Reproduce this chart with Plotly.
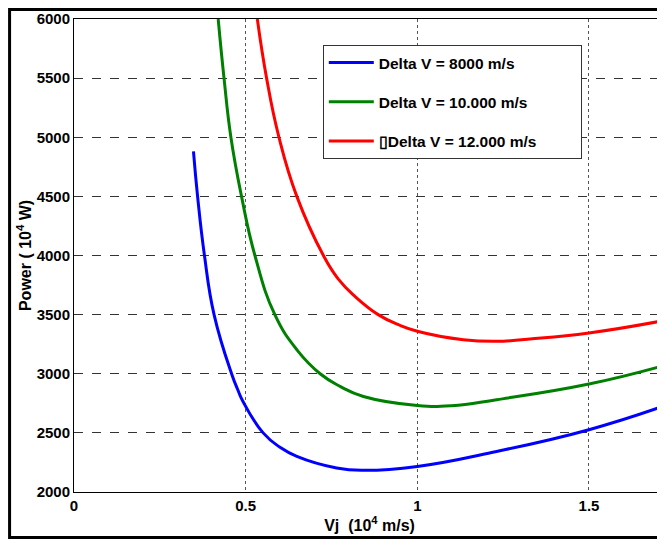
import plotly.graph_objects as go

# values (Vj in 1e4 m/s, power in 1e4 W)
vj_8000 = [0.348, 0.360, 0.380, 0.408, 0.459, 0.477, 0.493, 0.551, 0.600, 0.649, 0.765, 0.843, 1.0, 1.231, 1.5, 1.721]
pw_8000 = [4880, 4500, 4000, 3500, 3000, 2865, 2761, 2500, 2378, 2301, 2203, 2183, 2216, 2343, 2527, 2730]

vj_10000 = [0.420, 0.437, 0.457, 0.488, 0.527, 0.585, 0.650, 0.717, 0.775, 0.843, 1.0, 1.1, 1.231, 1.5, 1.721]
pw_10000 = [6000, 5500, 5000, 4500, 4000, 3500, 3200, 3000, 2893, 2808, 2732, 2730, 2781, 2913, 3071]

vj_12000 = [0.534, 0.561, 0.597, 0.649, 0.7265, 0.770, 0.8185, 0.886, 0.945, 1.0, 1.134, 1.231, 1.328, 1.5, 1.721]
pw_12000 = [6000, 5500, 5000, 4500, 4000, 3800, 3654, 3500, 3415, 3360, 3288, 3274, 3294, 3345, 3451]

series = [
    ("Delta V = 8000 m/s", vj_8000, pw_8000, "#0000ff"),
    ("Delta V = 10.000 m/s", vj_10000, pw_10000, "#008000"),
    ("\u25afDelta V = 12.000 m/s\u00a0\u00a0\u00a0\u00a0\u00a0\u00a0\u00a0\u00a0\u00a0", vj_12000, pw_12000, "#ff0000"),
]

font = "Liberation Sans, Arial, sans-serif"

fig = go.Figure()
for i, (name, x, y, c) in enumerate(series):
    fig.add_trace(go.Scatter(
        x=x, y=y, name=name, mode="lines", legendgroup=str(i),
        line=dict(color=c, width=3, shape="spline", smoothing=1.3),
    ))

# the page body has an 8px margin, so the figure is a bit smaller than the window
fig.update_layout(
    width=657, height=531,
    margin=dict(l=66, r=0, t=11, b=47),
    paper_bgcolor="white", plot_bgcolor="white",
    font=dict(family=font, size=14, color="black"),
    showlegend=True,
    legend=dict(
        x=0.421, y=0.945, xanchor="left", yanchor="top",
        bgcolor="white", bordercolor="#333333", borderwidth=1,
        font=dict(family=font, size=15.5, color="black", weight="bold"),
        traceorder="grouped", tracegroupgap=16, itemwidth=45,
    ),
    shapes=[dict(
        type="rect", xref="paper", yref="paper",
        x0=-0.109, x1=1.02, y0=-0.0962, y1=1.0201,
        line=dict(color="black", width=3), layer="above",
    )],
)

fig.update_xaxes(
    range=[0, 1.7215], tickvals=[0, 0.5, 1, 1.5], ticktext=["0", "0.5", "1", "1.5"],
    showgrid=True, gridcolor="#555555", griddash="dot", gridwidth=1,
    showline=True, linecolor="black", linewidth=1, mirror=True,
    ticks="", zeroline=False, automargin=False,
    tickfont=dict(family=font, size=15, weight="bold"),
    title=dict(text="Vj  (10<sup>4</sup> m/s)", font=dict(family=font, size=16, weight="bold"), standoff=2),
)
fig.update_yaxes(
    range=[2000, 6000], tickvals=[2000, 2500, 3000, 3500, 4000, 4500, 5000, 5500, 6000],
    showgrid=True, gridcolor="#333333", griddash="dash", gridwidth=1,
    showline=True, linecolor="black", linewidth=1,
    ticks="", zeroline=False, automargin=False,
    tickfont=dict(family=font, size=15, weight="bold"),
    title=dict(text="Power ( 10<sup>4</sup> W)", font=dict(family=font, size=16, weight="bold"), standoff=1),
)

fig.write_html("out.html")
